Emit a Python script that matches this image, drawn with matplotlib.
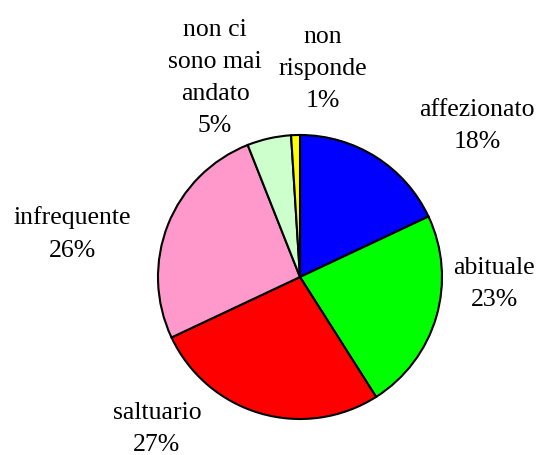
import matplotlib
matplotlib.use("Agg")
import matplotlib.pyplot as plt

# categories, starting at 12 o'clock and going clockwise
labels = ["affezionato", "abituale", "saltuario", "infrequente",
          "non ci\nsono mai\nandato", "non\nrisponde"]
shares = [18, 23, 27, 26, 5, 1]
colors = ["#0000FF", "#00FF00", "#FF0000", "#FF99CC", "#CCFFCC", "#FFFF00"]

# label anchor positions (pixel coords, y measured from bottom)
label_pos = [(477, 329), (494, 171), (157, 26), (72, 221), (215, 377), (323, 386)]

W, H = 539, 455
fig = plt.figure(figsize=(W / 100, H / 100), dpi=100)
ax = fig.add_axes([0, 0, 1, 1])

ax.pie(shares, colors=colors, startangle=90, counterclock=False,
       center=(300, 178), radius=142, frame=True,
       wedgeprops=dict(edgecolor="black", linewidth=1.5))
ax.set_xlim(0, W)
ax.set_ylim(0, H)
ax.axis("off")

for lab, val, (x, y) in zip(labels, shares, label_pos):
    ax.text(x, y, f"{lab}\n{val}%", ha="center", va="center",
            fontsize=18.5, family="Liberation Serif", linespacing=1.6)

fig.savefig("out.png", dpi=100)
